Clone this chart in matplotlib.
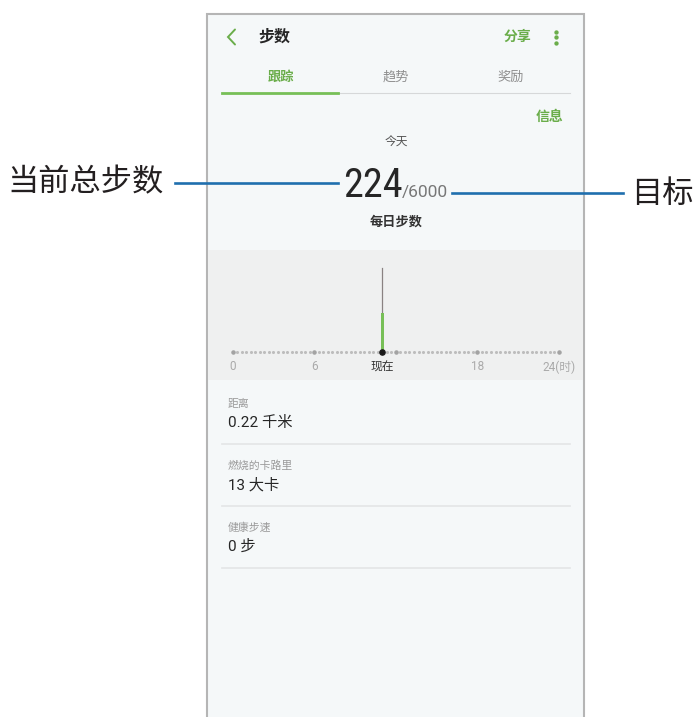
import matplotlib
matplotlib.use("Agg")
import matplotlib.pyplot as plt
from matplotlib.patches import Rectangle
import numpy as np

plt.rcParams['font.family'] = ['Roboto', 'Noto Sans CJK SC', 'DejaVu Sans']

# 数据
steps_today = 224
steps_goal = 6000
now_hour = 11
hourly_hours = [11]
hourly_steps = [224]
tick_hours = [0, 6, 11, 18, 24]
tick_labels = ['0', '6', '现在', '18', '24(时)']
major_dot_hours = [0, 6, 12, 18, 24]
tab_names = ['跟踪', '趋势', '奖励']
stat_labels = ['距离', '燃烧的卡路里', '健康步速']
stat_values = ['0.22 千米', '13 大卡', '0 步']

GREEN = '#6aad4a'
BAR_GREEN = '#77bf57'
DARK = '#262626'
GRAY = '#8e8e8e'
BLUE = '#1f6fae'

W, H = 694, 717
fig = plt.figure(figsize=(W / 100, H / 100), dpi=100)
ax = fig.add_axes([0, 0, 1, 1])
ax.set_xlim(0, W)
ax.set_ylim(H, 0)
ax.axis('off')

# 手机屏幕框
ax.add_patch(Rectangle((207, 14), 377, 720, facecolor='#f5f8f9',
                       edgecolor='#b5b5b5', lw=1.5, zorder=0))
ax.add_patch(Rectangle((208, 250), 375, 130, facecolor='#eff0f0',
                       edgecolor='none', zorder=1))

# 标题栏
ax.plot([235, 228, 235], [29.5, 37, 44.5], color=GREEN, lw=1.4,
        solid_capstyle='round', solid_joinstyle='miter')
ax.text(258, 37, '步数', fontsize=11.5, fontweight='bold', color=DARK,
        ha='left', va='center')
ax.text(517, 37, '分享', fontsize=10, fontweight='bold', color=GREEN,
        ha='center', va='center')
ax.scatter([556] * 3, [31.5, 37, 42.5], s=4.5, color=GREEN, zorder=3)

# 标签页
tab_x = [281, 396, 511]
for i, (name, x) in enumerate(zip(tab_names, tab_x)):
    ax.text(x, 77, name, fontsize=9.5, ha='center', va='center',
            color=GREEN if i == 0 else GRAY,
            fontweight='bold' if i == 0 else 'normal')
ax.plot([338, 570], [93, 93], color='#d6d8d9', lw=0.8)
ax.plot([222, 338], [93, 93], color=BAR_GREEN, lw=2)
ax.text(563, 117, '信息', fontsize=10, fontweight='bold', color=GREEN,
        ha='right', va='center')

# 今日步数
ax.text(396, 142, '今天', fontsize=8.5, color='#555555', ha='center', va='center')
ax.text(343, 197, str(steps_today), fontsize=29,
        family=['Liberation Sans Narrow', 'Roboto Condensed', 'Roboto'],
        color=DARK, ha='left', va='baseline')
ax.text(402, 197, f'/{steps_goal}', fontsize=12.5, color='#777777',
        ha='left', va='baseline')
ax.text(396, 222, '每日步数', fontsize=9.5, fontweight='bold', color='#333333',
        ha='center', va='center')

# 注释
ax.plot([175, 338], [183, 183], color=BLUE, lw=1.9)
ax.plot([452, 623], [193, 193], color=BLUE, lw=1.9)
ax.text(7, 183, '当前总步数', fontsize=22.5, color='#231f20',
        ha='left', va='center')
ax.text(631, 194, '目标', fontsize=22.5, color='#231f20',
        ha='left', va='center')

# 每小时图表
left, right, top, base = 232.7, 559, 258, 352
cax = fig.add_axes([left / W, 1 - base / H, (right - left) / W, (base - top) / H])
cax.set_xlim(0, 24)
cax.set_ylim(0, 540)
cax.patch.set_alpha(0)
for s in cax.spines.values():
    s.set_visible(False)
cax.set_yticks([])

minor = np.arange(0, 24.01, 1 / 3)
cax.scatter(minor, np.zeros_like(minor), s=1.5, color='#bdbdbd',
            clip_on=False, zorder=2)
cax.scatter(major_dot_hours, [0] * len(major_dot_hours), s=5, color='#a3a3a3',
            clip_on=False, zorder=3)
cax.axvline(now_hour, ymin=0, ymax=0.894, color='#8a8282', lw=0.9, zorder=3)
cax.bar(hourly_hours, hourly_steps, width=0.22, color=BAR_GREEN, zorder=4)
cax.scatter([now_hour], [0], s=14, color='#1a1a1a', clip_on=False, zorder=5)

cax.set_xticks(tick_hours, tick_labels)
cax.tick_params(axis='x', length=0, pad=6, labelsize=8.5, labelcolor='#aaaaaa')
for lbl, h in zip(cax.get_xticklabels(), tick_hours):
    if h == now_hour:
        lbl.set_color('#333333')

# 统计信息
for i, (lab, val) in enumerate(zip(stat_labels, stat_values)):
    y0 = 404 + i * 62
    ax.text(228, y0, lab, fontsize=7.8, color='#9a9a9a', ha='left', va='center')
    ax.text(228, y0 + 19, val, fontsize=11, color=DARK, ha='left', va='center')
    ax.plot([222, 570], [y0 + 40, y0 + 40], color='#e3e5e6', lw=1.2)

fig.savefig('out.png', dpi=100)
